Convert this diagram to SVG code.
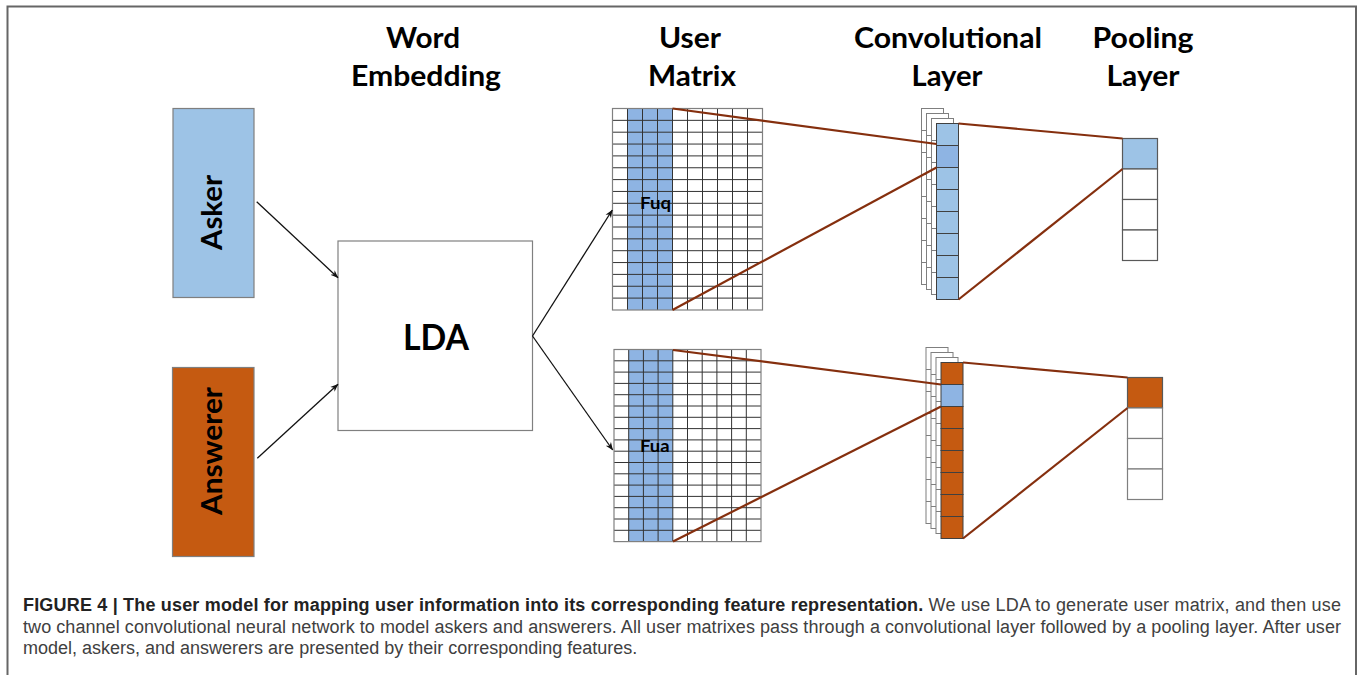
<svg xmlns="http://www.w3.org/2000/svg" width="1358" height="675" viewBox="0 0 1358 675">
<style>
.t{font-family:Lato,"Open Sans","DejaVu Sans",sans-serif;font-weight:bold;fill:#000}
.title{font-size:29px}
.grid{fill:none;stroke:#333;stroke-width:1}
.outer{fill:none;stroke:#808080;stroke-width:1.2}
.cell{stroke:#404040;stroke-width:1}
.blue{fill:#9dc3e6}
.dblue{fill:#8eb4e3}
.orange{fill:#c55a11}
.red{stroke:#852f0e;stroke-width:2.2;fill:none}
.blk{stroke:#111;stroke-width:1.3;fill:none;marker-end:url(#arr)}
.cap{font-family:"Liberation Sans",Arial,sans-serif;font-size:18px}
</style>
<defs>
<marker id="arr" viewBox="0 0 10 10" refX="9.5" refY="5" markerWidth="8" markerHeight="8" markerUnits="userSpaceOnUse" orient="auto">
<path d="M0,1 L10,5 L0,9 L3,5 z" fill="#111"/>
</marker>
<g id="back">
<rect x="0" y="0" width="22" height="176" fill="#fff" stroke="#7f7f7f" stroke-width="1"/>
<path d="M0,22h22M0,44h22M0,66h22M0,88h22M0,110h22M0,132h22M0,154h22" stroke="#7f7f7f" stroke-width="1" fill="none"/>
</g>
</defs>
<rect width="1358" height="675" fill="#fff"/>
<path d="M7.5,675V6.5H1356V675" fill="none" stroke="#666" stroke-width="2"/>

<g id="titles">
<text class="t title" x="423" y="48" text-anchor="middle" textLength="74" lengthAdjust="spacingAndGlyphs">Word</text>
<text class="t title" x="426" y="86" text-anchor="middle" textLength="150" lengthAdjust="spacingAndGlyphs">Embedding</text>
<text class="t title" x="690" y="48" text-anchor="middle" textLength="62" lengthAdjust="spacingAndGlyphs">User</text>
<text class="t title" x="692" y="86" text-anchor="middle" textLength="88" lengthAdjust="spacingAndGlyphs">Matrix</text>
<text class="t title" x="948" y="48" text-anchor="middle" textLength="188" lengthAdjust="spacingAndGlyphs">Convolutional</text>
<text class="t title" x="947" y="86" text-anchor="middle" textLength="71" lengthAdjust="spacingAndGlyphs">Layer</text>
<text class="t title" x="1143" y="48" text-anchor="middle" textLength="101" lengthAdjust="spacingAndGlyphs">Pooling</text>
<text class="t title" x="1143" y="86" text-anchor="middle" textLength="73" lengthAdjust="spacingAndGlyphs">Layer</text>
</g>

<g id="asker">
<rect x="173" y="108.5" width="81" height="189" class="blue" stroke="#7f7f7f" stroke-width="1.2"/>
<text class="t" font-size="29" transform="translate(221.5,212.5) rotate(-90)" text-anchor="middle" textLength="75" lengthAdjust="spacingAndGlyphs">Asker</text>
</g>

<g id="answerer">
<rect x="172.5" y="367.5" width="81.5" height="189" class="orange" stroke="#7f7f7f" stroke-width="1.2"/>
<text class="t" font-size="29" transform="translate(221.5,451) rotate(-90)" text-anchor="middle" textLength="128" lengthAdjust="spacingAndGlyphs">Answerer</text>
</g>

<g id="lda">
<rect x="338" y="241" width="194.5" height="189.5" fill="#fff" stroke="#808080" stroke-width="1.2"/>
<text class="t" font-size="37" x="436" y="350" text-anchor="middle" textLength="66" lengthAdjust="spacingAndGlyphs">LDA</text>
</g>

<g id="matrix-top">
<rect x="612.5" y="108.5" width="150" height="201.5" fill="#fff"/>
<rect x="627.5" y="108.5" width="45" height="201.5" class="dblue"/>
<path class="grid" d="M627.5,108.5V310M642.5,108.5V310M657.5,108.5V310M672.5,108.5V310M687.5,108.5V310M702.5,108.5V310M717.5,108.5V310M732.5,108.5V310M747.5,108.5V310
M612.5,120.35H762.5M612.5,132.2H762.5M612.5,144.05H762.5M612.5,155.9H762.5M612.5,167.75H762.5M612.5,179.6H762.5M612.5,191.45H762.5M612.5,203.3H762.5M612.5,215.15H762.5M612.5,227H762.5M612.5,238.85H762.5M612.5,250.7H762.5M612.5,262.55H762.5M612.5,274.4H762.5M612.5,286.25H762.5M612.5,298.1H762.5"/>
<rect x="612.5" y="108.5" width="150" height="201.5" class="outer"/>
<text class="t" font-size="17" x="640" y="208.5" textLength="31" lengthAdjust="spacingAndGlyphs">Fuq</text>
</g>

<g id="matrix-bottom">
<rect x="614" y="349.5" width="147" height="192.1" fill="#fff"/>
<rect x="628.7" y="349.5" width="44.1" height="192.1" class="dblue"/>
<path class="grid" d="M628.7,349.5V541.6M643.4,349.5V541.6M658.1,349.5V541.6M672.8,349.5V541.6M687.5,349.5V541.6M702.2,349.5V541.6M716.9,349.5V541.6M731.6,349.5V541.6M746.3,349.5V541.6
M614,360.8H761M614,372.1H761M614,383.4H761M614,394.7H761M614,406H761M614,417.3H761M614,428.6H761M614,439.9H761M614,451.2H761M614,462.5H761M614,473.8H761M614,485.1H761M614,496.4H761M614,507.7H761M614,519H761M614,530.3H761"/>
<rect x="614" y="349.5" width="147" height="192.1" class="outer"/>
<text class="t" font-size="17" x="640" y="452" textLength="29.5" lengthAdjust="spacingAndGlyphs">Fua</text>
</g>

<g id="conv-top">
<use href="#back" x="921.5" y="108.5"/>
<use href="#back" x="926.5" y="113.5"/>
<use href="#back" x="931.5" y="118.5"/>
<rect class="cell blue" x="936.5" y="123.5" width="22" height="22"/>
<rect class="cell dblue" x="936.5" y="145.5" width="22" height="22"/>
<rect class="cell blue" x="936.5" y="167.5" width="22" height="22"/>
<rect class="cell blue" x="936.5" y="189.5" width="22" height="22"/>
<rect class="cell blue" x="936.5" y="211.5" width="22" height="22"/>
<rect class="cell blue" x="936.5" y="233.5" width="22" height="22"/>
<rect class="cell blue" x="936.5" y="255.5" width="22" height="22"/>
<rect class="cell blue" x="936.5" y="277.5" width="22" height="22"/>
</g>

<g id="conv-bottom">
<use href="#back" x="926" y="347.5"/>
<use href="#back" x="931" y="352.5"/>
<use href="#back" x="936" y="357.5"/>
<rect class="cell orange" x="941" y="362.5" width="22" height="22"/>
<rect class="cell dblue" x="941" y="384.5" width="22" height="22"/>
<rect class="cell orange" x="941" y="406.5" width="22" height="22"/>
<rect class="cell orange" x="941" y="428.5" width="22" height="22"/>
<rect class="cell orange" x="941" y="450.5" width="22" height="22"/>
<rect class="cell orange" x="941" y="472.5" width="22" height="22"/>
<rect class="cell orange" x="941" y="494.5" width="22" height="22"/>
<rect class="cell orange" x="941" y="516.5" width="22" height="22"/>
</g>

<g id="pool-top">
<rect x="1122.5" y="138.5" width="35" height="30.5" class="blue" stroke="#595959" stroke-width="1.2"/>
<rect x="1122.5" y="169" width="35" height="30.5" fill="#fff" stroke="#595959" stroke-width="1.2"/>
<rect x="1122.5" y="199.5" width="35" height="30.5" fill="#fff" stroke="#595959" stroke-width="1.2"/>
<rect x="1122.5" y="230" width="35" height="30.5" fill="#fff" stroke="#595959" stroke-width="1.2"/>
</g>

<g id="pool-bottom">
<rect x="1127.5" y="377.5" width="35" height="30.5" class="orange" stroke="#595959" stroke-width="1.2"/>
<rect x="1127.5" y="408" width="35" height="30.5" fill="#fff" stroke="#7f7f7f" stroke-width="1.2"/>
<rect x="1127.5" y="438.5" width="35" height="30.5" fill="#fff" stroke="#7f7f7f" stroke-width="1.2"/>
<rect x="1127.5" y="469" width="35" height="30.5" fill="#fff" stroke="#7f7f7f" stroke-width="1.2"/>
</g>

<g id="connectors">
<line class="blk" x1="256.7" y1="201.7" x2="338" y2="277.7"/>
<line class="blk" x1="257.3" y1="458.3" x2="338" y2="384.3"/>
<line class="blk" x1="532.5" y1="336" x2="612.3" y2="210"/>
<line class="blk" x1="532.5" y1="336" x2="612.7" y2="450"/>
<line class="red" x1="672.5" y1="108.5" x2="936.5" y2="144"/>
<line class="red" x1="672.5" y1="310" x2="936.5" y2="167.5"/>
<line class="red" x1="958.5" y1="123.5" x2="1122.5" y2="138.5"/>
<line class="red" x1="958.5" y1="299.5" x2="1122.5" y2="169"/>
<line class="red" x1="673" y1="350" x2="941" y2="384.5"/>
<line class="red" x1="673" y1="541.6" x2="941" y2="406.5"/>
<line class="red" x1="963" y1="362.5" x2="1127.5" y2="377.5"/>
<line class="red" x1="963" y1="538.5" x2="1127.5" y2="408"/>
</g>

<g id="caption">
<text class="cap" x="23" y="611" textLength="1318" lengthAdjust="spacing"><tspan font-weight="bold" fill="#222">FIGURE 4 | The user model for mapping user information into its corresponding feature representation.</tspan><tspan fill="#404040"> We use LDA to generate user matrix, and then use</tspan></text>
<text class="cap" x="23" y="632.5" fill="#404040" textLength="1318" lengthAdjust="spacing">two channel convolutional neural network to model askers and answerers. All user matrixes pass through a convolutional layer followed by a pooling layer. After user</text>
<text class="cap" x="23" y="654" fill="#404040">model, askers, and answerers are presented by their corresponding features.</text>
</g>
</svg>
